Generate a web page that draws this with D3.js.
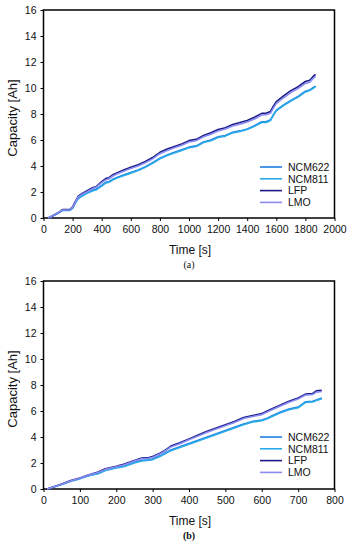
<!doctype HTML>
<html>
<head>
<script src="https://d3js.org/d3.v7.min.js"></script>
<style>
  body { margin: 0; background: #fff; }
  text { font-family: "Liberation Sans", Arial, sans-serif; }
</style>
</head>
<body>
<script>
    // series names and colours
    var seriesNames = ["NCM622", "NCM811", "LFP", "LMO"];
    var seriesColors = ["#1f80e0", "#2aaaea", "#1b1a86", "#8a8cf0"];

    // panel (a)
    var timeA = [33, 60, 100, 130, 150, 180, 200, 220, 240, 260, 300, 340, 360, 400, 430, 450, 480, 500, 550, 600, 650, 700, 750, 800, 850, 900, 950, 1000, 1050, 1100, 1150, 1200, 1250, 1300, 1350, 1400, 1450, 1500, 1530, 1560, 1580, 1600, 1650, 1700, 1750, 1800, 1830, 1850, 1870];
    var lfpA = [0, 0.15, 0.4, 0.65, 0.65, 0.65, 0.85, 1.3, 1.7, 1.85, 2.1, 2.35, 2.4, 2.8, 3.05, 3.1, 3.35, 3.45, 3.7, 3.9, 4.1, 4.35, 4.65, 5.05, 5.3, 5.5, 5.7, 5.95, 6.05, 6.35, 6.55, 6.8, 6.95, 7.2, 7.35, 7.5, 7.75, 8.05, 8.05, 8.2, 8.6, 8.95, 9.4, 9.8, 10.1, 10.5, 10.6, 10.85, 11.05];
    var lmoA = [0, 0.15, 0.4, 0.62, 0.62, 0.64, 0.82, 1.25, 1.65, 1.8, 2.02, 2.28, 2.35, 2.72, 2.95, 3.02, 3.25, 3.36, 3.6, 3.8, 4.0, 4.25, 4.55, 4.95, 5.2, 5.4, 5.6, 5.85, 5.95, 6.25, 6.45, 6.7, 6.85, 7.08, 7.22, 7.38, 7.62, 7.92, 7.95, 8.05, 8.45, 8.8, 9.25, 9.65, 9.95, 10.35, 10.45, 10.7, 10.9];
    var ncm622A = [0, 0.15, 0.38, 0.6, 0.6, 0.6, 0.78, 1.2, 1.55, 1.7, 1.95, 2.15, 2.2, 2.5, 2.75, 2.8, 3.0, 3.1, 3.3, 3.5, 3.7, 3.95, 4.25, 4.6, 4.85, 5.05, 5.25, 5.45, 5.55, 5.85, 6.0, 6.25, 6.35, 6.6, 6.7, 6.85, 7.1, 7.4, 7.4, 7.55, 7.95, 8.3, 8.7, 9.05, 9.35, 9.75, 9.85, 10.0, 10.15];
    var ncm811A = [0, 0.14, 0.36, 0.58, 0.58, 0.58, 0.75, 1.16, 1.5, 1.65, 1.9, 2.1, 2.15, 2.45, 2.7, 2.75, 2.95, 3.05, 3.25, 3.45, 3.65, 3.9, 4.2, 4.55, 4.8, 5.0, 5.2, 5.4, 5.5, 5.8, 5.95, 6.2, 6.3, 6.55, 6.65, 6.8, 7.05, 7.35, 7.35, 7.5, 7.9, 8.25, 8.65, 9.0, 9.3, 9.7, 9.8, 9.95, 10.1];

    // panel (b)
    var timeB = [10, 30, 50, 75, 100, 125, 150, 170, 200, 220, 250, 270, 290, 300, 320, 330, 350, 375, 400, 425, 450, 475, 500, 525, 550, 575, 600, 615, 630, 650, 675, 700, 720, 740, 750, 765];
    var lfpB = [0, 0.2, 0.38, 0.65, 0.85, 1.1, 1.3, 1.55, 1.75, 1.9, 2.2, 2.38, 2.42, 2.5, 2.75, 2.9, 3.3, 3.55, 3.85, 4.15, 4.45, 4.7, 4.95, 5.2, 5.5, 5.65, 5.8, 6.0, 6.2, 6.45, 6.75, 7.0, 7.3, 7.35, 7.55, 7.6];
    var lmoB = [0, 0.19, 0.37, 0.63, 0.83, 1.07, 1.27, 1.51, 1.71, 1.85, 2.15, 2.33, 2.37, 2.45, 2.7, 2.84, 3.23, 3.48, 3.78, 4.07, 4.37, 4.62, 4.87, 5.12, 5.42, 5.57, 5.72, 5.92, 6.12, 6.37, 6.67, 6.92, 7.22, 7.27, 7.45, 7.5];
    var ncm622B = [0, 0.18, 0.35, 0.62, 0.8, 1.05, 1.2, 1.45, 1.65, 1.75, 2.05, 2.2, 2.25, 2.3, 2.55, 2.7, 3.0, 3.25, 3.5, 3.75, 4.0, 4.25, 4.5, 4.75, 5.0, 5.2, 5.3, 5.45, 5.65, 5.9, 6.15, 6.3, 6.7, 6.75, 6.85, 7.0];
    var ncm811B = [0, 0.17, 0.34, 0.6, 0.78, 1.02, 1.17, 1.42, 1.62, 1.72, 2.01, 2.16, 2.21, 2.26, 2.5, 2.65, 2.95, 3.2, 3.45, 3.7, 3.95, 4.2, 4.45, 4.7, 4.95, 5.15, 5.25, 5.4, 5.6, 5.85, 6.1, 6.25, 6.65, 6.7, 6.8, 6.95];

    var yTicks = [0, 2, 4, 6, 8, 10, 12, 14, 16];
    var xTicksA = [0, 200, 400, 600, 800, 1000, 1200, 1400, 1600, 1800, 2000];
    var xTicksB = [0, 100, 200, 300, 400, 500, 600, 700, 800];

    var svg = d3.select("body").append("svg")
        .attr("width", 353)
        .attr("height", 550);

    function drawPanel(top, xMax, xTicks, times, series, label, legendTop) {
        var left = 43.5, right = 334.5, bottom = top + 208;

        var x = d3.scaleLinear().domain([0, xMax]).range([left, right]);
        var y = d3.scaleLinear().domain([0, 16]).range([bottom, top]);

        var g = svg.append("g");

        // y axis
        var yAx = g.append("g")
            .attr("transform", "translate(" + left + ",0)")
            .call(d3.axisLeft(y).tickValues(yTicks).tickSize(3).tickSizeOuter(0).tickPadding(4));
        // x axis
        var xAx = g.append("g")
            .attr("transform", "translate(0," + bottom + ")")
            .call(d3.axisBottom(x).tickValues(xTicks).tickFormat(d3.format("d"))
                .tickSize(3).tickSizeOuter(0).tickPadding(5));

        [yAx, xAx].forEach(function(a) {
            a.select(".domain").remove();
            a.selectAll("line").attr("stroke", "#000").attr("stroke-width", 1);
            a.selectAll("text")
                .attr("fill", "#111")
                .style("font-family", "'Liberation Sans', Arial, sans-serif")
                .style("font-size", "10.5px");
        });

        // frame
        g.append("rect")
            .attr("x", left).attr("y", top)
            .attr("width", right - left).attr("height", bottom - top)
            .attr("fill", "none").attr("stroke", "#000").attr("stroke-width", 1.5);

        // lines
        var line = d3.line()
            .x(function(d) { return x(d[0]); })
            .y(function(d) { return y(d[1]); });

        series.forEach(function(vals, i) {
            var pts = times.map(function(t, j) { return [t, vals[j]]; });
            g.append("path")
                .datum(pts)
                .attr("d", line)
                .attr("fill", "none")
                .attr("stroke", seriesColors[i])
                .attr("stroke-width", 1.6)
                .attr("stroke-linejoin", "round");
        });

        // legend
        seriesNames.forEach(function(name, i) {
            var ly = legendTop + i * 11.8;
            g.append("line")
                .attr("x1", 260).attr("x2", 282)
                .attr("y1", ly).attr("y2", ly)
                .attr("stroke", seriesColors[i]).attr("stroke-width", 1.6);
            g.append("text")
                .attr("x", 288).attr("y", ly + 3.7)
                .attr("font-size", "10.5px")
                .attr("fill", "#111")
                .text(name);
        });

        // axis titles
        g.append("text")
            .attr("x", (left + right) / 2 + 1).attr("y", bottom + 36)
            .attr("text-anchor", "middle")
            .attr("font-size", "12px")
            .attr("fill", "#111")
            .text("Time [s]");

        g.append("text")
            .attr("transform", "translate(17," + ((top + bottom) / 2 + 4) + ") rotate(-90)")
            .attr("text-anchor", "middle")
            .attr("font-size", "13px")
            .attr("fill", "#111")
            .text("Capacity [Ah]");

        g.append("text")
            .attr("x", (left + right) / 2).attr("y", bottom + 50)
            .attr("text-anchor", "middle")
            .style("font-family", "'Liberation Serif', 'DejaVu Serif', serif")
            .attr("font-size", "10px")
            .attr("font-weight", label === "(b)" ? "bold" : "normal")
            .attr("fill", "#111")
            .text(label);
    }

    drawPanel(10, 2000, xTicksA, timeA, [ncm622A, ncm811A, lfpA, lmoA], "(a)", 167);
    drawPanel(281, 800, xTicksB, timeB, [ncm622B, ncm811B, lfpB, lmoB], "(b)", 437);
</script>
</body>
</html>
